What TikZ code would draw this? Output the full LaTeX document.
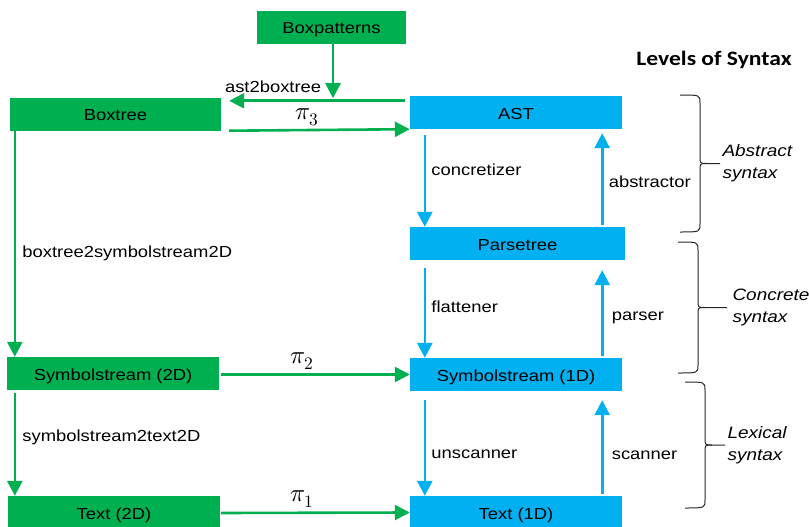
\documentclass[tikz,border=0pt]{standalone}
\usepackage{fontspec}
\usepackage{unicode-math}
\setmainfont{Liberation Sans}[FakeStretch=1.15]
\setmathfont{Latin Modern Math}
\newfontfamily\titlefont{Carlito}[FakeStretch=1.15]
\usetikzlibrary{arrows.meta,calc}
\definecolor{boxgreen}{HTML}{00B050}
\definecolor{boxblue}{HTML}{00B0F0}
% right brace: x of ends, top y, bottom y, x where the tip stops
\newcommand{\levelbrace}[4]{%
	\draw [black!85,line width=1pt] (#1,#2) .. controls ({#1+20},#2) .. ({#1+20},{#2+8})
		-- ({#1+20},{(#2+#3)/2-7}) .. controls ({#1+20},{(#2+#3)/2}) .. ({#1+27},{(#2+#3)/2})
		-- (#4,{(#2+#3)/2});
	\draw [black!85,line width=1pt] (#1,#3) .. controls ({#1+20},#3) .. ({#1+20},{#3-8})
		-- ({#1+20},{(#2+#3)/2+7}) .. controls ({#1+20},{(#2+#3)/2}) .. ({#1+27},{(#2+#3)/2});
}
\begin{document}
\begin{tikzpicture}[x=1pt,y=-1pt,
	gbox/.style={fill=boxgreen,minimum width=212pt,minimum height=33pt,inner sep=0pt,text height=16pt,text depth=3pt,font=\fontsize{16}{19}\selectfont},
	bbox/.style={gbox,fill=boxblue},
	garr/.style={draw=boxgreen,line width=2.6pt,-{Triangle[length=15pt,width=15pt]}},
	barr/.style={garr,draw=boxblue},
	lbl/.style={font=\fontsize{16}{19}\selectfont},
	pilbl/.style={font=\fontsize{25}{28}\selectfont,inner sep=0pt},
	syn/.style={font=\fontsize{16.5}{22}\selectfont\itshape,align=left,right}]
	\useasboundingbox (0,0) rectangle (809,527);
	% Boxes
	\node[gbox,minimum width=149pt] (bp) at (331.5,27.5) {Boxpatterns};
	\node[gbox,minimum width=211pt] (boxtree) at (115.5,114.5) {Boxtree};
	\node[bbox] (ast) at (516,112.5) {AST};
	\node[bbox,minimum width=215pt] (parse) at (517.5,243.5) {Parsetree};
	\node[gbox] (sym2) at (113,373.5) {Symbolstream (2D)};
	\node[bbox] (sym1) at (516,374.5) {Symbolstream (1D)};
	\node[gbox] (txt2) at (114,512.5) {Text (2D)};
	\node[bbox] (txt1) at (516,512.5) {Text (1D)};
	%Green arrows
	\draw[garr] ($(bp.south)+(1.5,0)$) -- ($(bp.south)+(1.5,54)$);
	\draw[garr] ($(ast.north west)+(-5,5)$) -- node[lbl,pos=0.75,above=4pt] {ast2boxtree} ($(boxtree.north east)+(8,3)$);
	\draw[garr] ($(boxtree.south east)+(8,-0.5)$) -- node[pilbl,pos=0.43,above=3pt] {$\pi_3$} (ast.south west);
	\draw[garr] ($(boxtree.south west)+(5,0)$) coordinate (bt) -- node[lbl,right=3pt,pos=0.54] {boxtree2symbolstream2D} (bt |- sym2.north);
	\draw[garr] ($(sym2.south west)+(8,3)$) coordinate (st) -- node[lbl,right=3pt,pos=0.43] {symbolstream2text2D} (st |- txt2.north);
	\draw[garr] ($(sym2.east)+(2,1)$) -- node[pilbl,pos=0.43,above=4pt] {$\pi_2$} (sym1.west);
	\draw[garr] ($(txt2.east)+(1,0.5)$) -- node[pilbl,pos=0.43,above=4pt] {$\pi_1$} (txt1.west);
	%Blue arrows
	\draw[barr] ($(ast.south west)+(15,6)$) coordinate (d1) -- node[lbl,right=2pt,pos=0.38] {concretizer} (d1 |- parse.north);
	\draw[barr] ($(parse.north east)+(-23,-2)$) coordinate (u1) -- node[lbl,right=2pt,pos=0.47] {abstractor} ($(u1 |- ast.south)+(0,4)$);
	\draw[barr] ($(parse.south west)+(15,8)$) coordinate (d2) -- node[lbl,right=2pt,pos=0.43] {flattener} (d2 |- sym1.north);
	\draw[barr] ($(sym1.north east)+(-20,-2)$) coordinate (u2) -- node[lbl,right=5pt,pos=0.44] {parser} ($(u2 |- parse.south)+(0,10)$);
	\draw[barr] ($(sym1.south west)+(15,9)$) coordinate (d3) -- node[lbl,right=2pt,pos=0.57] {unscanner} (d3 |- txt1.north);
	\draw[barr] ($(txt1.north east)+(-20,-2)$) coordinate (u3) -- node[lbl,right=5pt,pos=0.41] {scanner} ($(u3 |- sym1.south)+(0,9)$);
	%Levels
	\node[font={\titlefont\fontsize{20.5}{24}\selectfont\bfseries}] (title) at (714,60) {Levels of Syntax};
	\levelbrace{680}{95}{232}{720}
	\levelbrace{678}{242}{373}{727}
	\levelbrace{685}{382}{508}{725}
	\node[syn] (abstract) at (719,163.5) {Abstract\\syntax};
	\node[syn] (concrete) at (729,307.5) {Concrete\\syntax};
	\node[syn] (lexical) at (724,445) {Lexical\\syntax};
\end{tikzpicture}
\end{document}
